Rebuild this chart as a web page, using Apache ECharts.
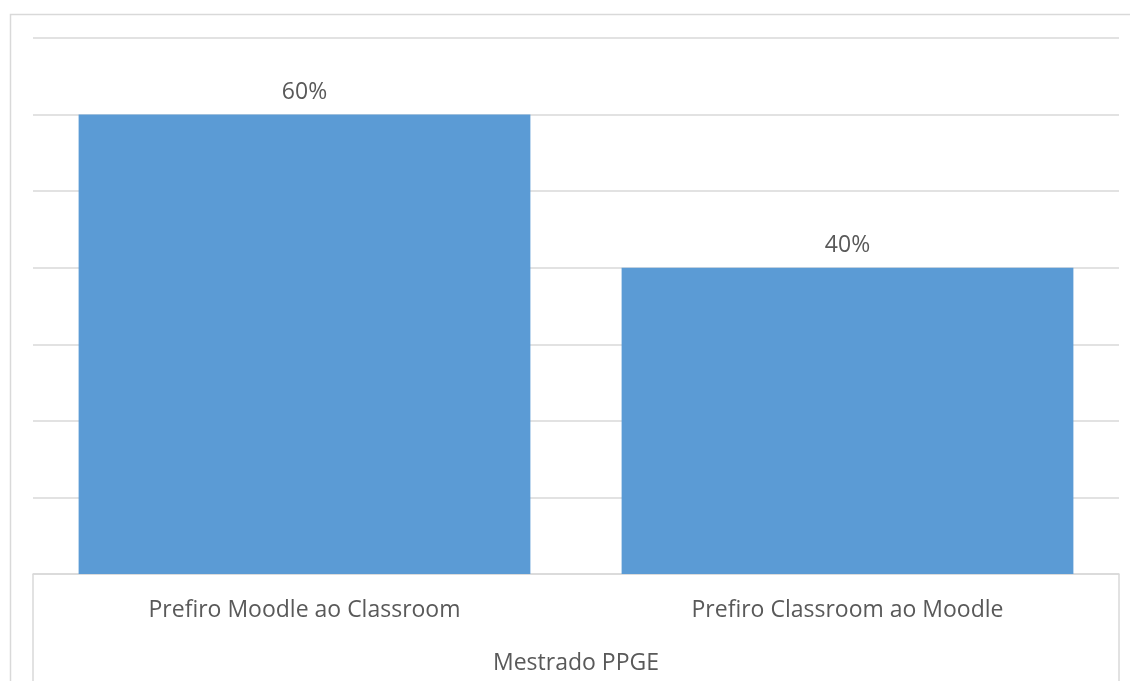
<!DOCTYPE html>
<html>
<head>
<meta charset="utf-8">
<script src="https://cdn.jsdelivr.net/npm/echarts@6/dist/echarts.min.js"></script>
<style>
html,body{margin:0;padding:0;background:#fff;}
#chart{width:1130px;height:681px;}
</style>
</head>
<body>
<div id="chart"></div>
<script>
const categories = ['Prefiro Moodle ao Classroom', 'Prefiro Classroom ao Moodle'];
const groupCategories = ['Mestrado PPGE'];
const values = [0.60, 0.40];

const FONT = '"Open Sans", "Noto Sans", sans-serif';
const TXT = '#595959';
const GRID = '#D9D9D9';

const chart = echarts.init(document.getElementById('chart'));
chart.setOption({
  animation: false,
  backgroundColor: '#ffffff',
  graphic: [{
    type: 'rect',
    shape: { x: 10.5, y: 14.5, width: 1140, height: 700 },
    style: { fill: 'none', stroke: GRID, lineWidth: 1.5 },
    silent: true
  }],
  grid: { left: 33, right: 11, top: 38, bottom: 107 },
  xAxis: [{
    type: 'category',
    data: categories,
    position: 'bottom',
    axisLine: { show: true, lineStyle: { color: GRID, width: 1.5 } },
    axisTick: { show: false },
    axisLabel: { color: TXT, fontFamily: FONT, fontSize: 23, margin: 25 },
    splitLine: { show: false }
  }, {
    type: 'category',
    data: groupCategories,
    position: 'bottom',
    axisLine: { show: false },
    axisTick: { show: true, length: 110, lineStyle: { color: GRID, width: 1.5 } },
    axisLabel: { color: TXT, fontFamily: FONT, fontSize: 23, margin: 78 },
    splitLine: { show: false }
  }],
  yAxis: {
    type: 'value',
    min: 0,
    max: 0.7,
    interval: 0.1,
    axisLine: { show: false },
    axisTick: { show: false },
    axisLabel: { show: false },
    splitLine: { show: true, lineStyle: { color: GRID, width: 1.5 } }
  },
  series: [{
    type: 'bar',
    xAxisIndex: 0,
    data: values,
    barCategoryGap: '16.8%',
    itemStyle: { color: '#5B9BD5' },
    label: {
      show: true,
      position: 'top',
      distance: 11,
      color: TXT,
      fontFamily: FONT,
      fontSize: 23,
      formatter: p => Math.round(p.value * 100) + '%'
    }
  }]
});
</script>
</body>
</html>
